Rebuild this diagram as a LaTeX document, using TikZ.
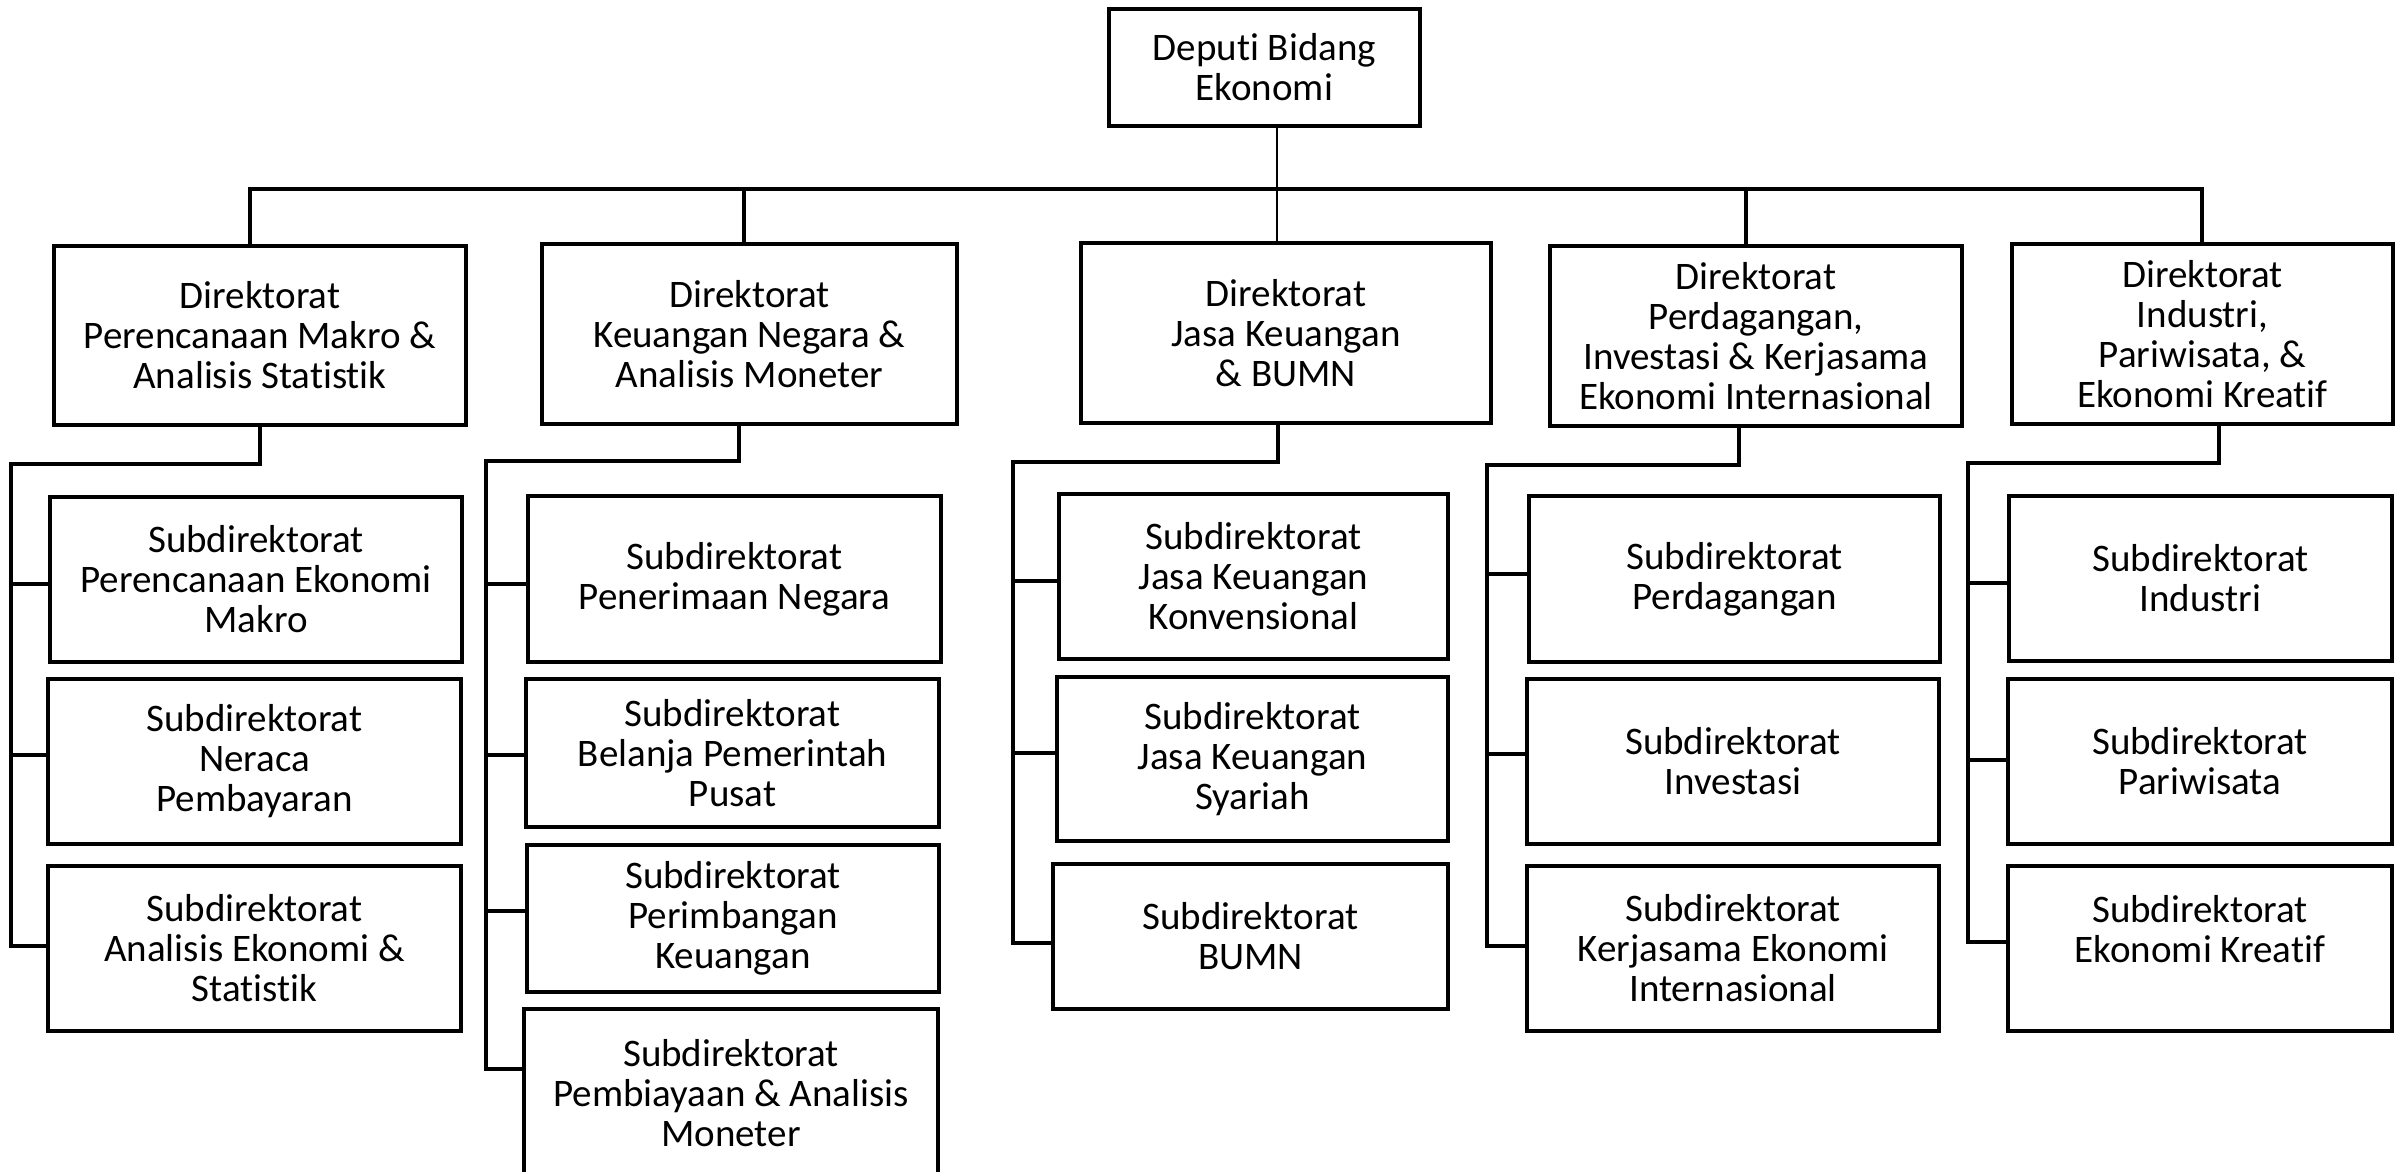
\documentclass[tikz,border=0pt]{standalone}
\usepackage{fontspec}
\setmainfont{Carlito}[Ligatures={NoCommon}]
\begin{document}
\begin{tikzpicture}[x=0.5pt,y=-0.5pt,
  box/.style={draw=black,line width=2pt,fill=white,align=center,inner sep=0pt,
    font=\fontsize{19.5pt}{20pt}\selectfont},
  conn/.style={line width=1.6pt,line join=miter},
  thin/.style={line width=1.3pt}]
\useasboundingbox (0,0) rectangle (2406,1172);
\newcommand\bx[6]{\node[box,minimum width={(#4-#2)*0.5pt},minimum height={(#5-#3)*0.5pt}]
  (#1) at ({(#2+#4)/2},{(#3+#5)/2}) {#6};}
% top
\bx{top}{1109}{9}{1420}{126}{Deputi Bidang\\Ekonomi}
% directorates
\bx{D1}{54}{246}{466}{425}{Direktorat\\Perencanaan Makro \&\\Analisis Statistik}
\bx{D2}{542}{244}{957}{424}{Direktorat\\Keuangan Negara \&\\Analisis Moneter}
\bx{D3}{1081}{243}{1491}{423}{Direktorat\\Jasa Keuangan\\\& BUMN}
\bx{D4}{1550}{246}{1962}{426}{Direktorat\\Perdagangan,\\Investasi \& Kerjasama\\Ekonomi Internasional}
\bx{D5}{2012}{244}{2393}{424}{Direktorat\\Industri,\\Pariwisata, \&\\Ekonomi Kreatif}
% column 1
\bx{S1a}{50}{497}{462}{662}{Subdirektorat\\Perencanaan Ekonomi\\Makro}
\bx{S1b}{48}{679}{461}{844}{Subdirektorat\\Neraca\\Pembayaran}
\bx{S1c}{48}{866}{461}{1031}{Subdirektorat\\Analisis Ekonomi \&\\Statistik}
% column 2
\bx{S2a}{528}{496}{941}{662}{Subdirektorat\\Penerimaan Negara}
\bx{S2b}{526}{679}{939}{827}{Subdirektorat\\Belanja Pemerintah\\Pusat}
\bx{S2c}{527}{845}{939}{992}{Subdirektorat\\Perimbangan\\Keuangan}
\bx{S2d}{524}{1009}{938}{1178}{Subdirektorat\\Pembiayaan \& Analisis\\Moneter}
% column 3
\bx{S3a}{1059}{494}{1448}{659}{Subdirektorat\\Jasa Keuangan\\Konvensional}
\bx{S3b}{1057}{677}{1448}{841}{Subdirektorat\\Jasa Keuangan\\Syariah}
\bx{S3c}{1053}{864}{1448}{1009}{Subdirektorat\\BUMN}
% column 4
\bx{S4a}{1529}{496}{1940}{662}{Subdirektorat\\Perdagangan}
\bx{S4b}{1527}{679}{1939}{844}{Subdirektorat\\Investasi}
\bx{S4c}{1527}{866}{1939}{1031}{Subdirektorat\\Kerjasama Ekonomi\\Internasional}
% column 5
\bx{S5a}{2009}{496}{2392}{661}{Subdirektorat\\Industri}
\bx{S5b}{2008}{679}{2392}{844}{Subdirektorat\\Pariwisata}
\bx{S5c}{2008}{866}{2392}{1031}{Subdirektorat\\Ekonomi Kreatif\\\mbox{}}

% bus
\coordinate (b1) at (250,189);
\coordinate (b2) at (744,189);
\coordinate (b3) at (1277,189);
\coordinate (b4) at (1746,189);
\coordinate (b5) at (2202,189);
\draw[thin] (top.south -| b3) -- (b3) -- (D3.north -| b3);
\draw[conn] (D1.north -| b1) -- (b1) -- (b5) -- (D5.north -| b5);
\draw[conn] (b2) -- (D2.north -| b2);
\draw[conn] (b4) -- (D4.north -| b4);

% column 1 connectors
\coordinate (d1) at (260,464); \coordinate (v1) at (11,464);
\coordinate (k1a) at (11,584); \coordinate (k1b) at (11,755); \coordinate (k1c) at (11,946);
\draw[conn] (D1.south -| d1) -- (d1) -- (v1) -- (k1c) -- (S1c.west |- k1c);
\draw[conn] (k1a) -- (S1a.west |- k1a);
\draw[conn] (k1b) -- (S1b.west |- k1b);

% column 2 connectors
\coordinate (d2) at (739,461); \coordinate (v2) at (486,461);
\coordinate (k2a) at (486,584); \coordinate (k2b) at (486,755);
\coordinate (k2c) at (486,911); \coordinate (k2d) at (486,1069);
\draw[conn] (D2.south -| d2) -- (d2) -- (v2) -- (k2d) -- (S2d.west |- k2d);
\draw[conn] (k2a) -- (S2a.west |- k2a);
\draw[conn] (k2b) -- (S2b.west |- k2b);
\draw[conn] (k2c) -- (S2c.west |- k2c);

% column 3 connectors
\coordinate (d3) at (1278,462); \coordinate (v3) at (1013,462);
\coordinate (k3a) at (1013,581); \coordinate (k3b) at (1013,753); \coordinate (k3c) at (1013,943);
\draw[conn] (D3.south -| d3) -- (d3) -- (v3) -- (k3c) -- (S3c.west |- k3c);
\draw[conn] (k3a) -- (S3a.west |- k3a);
\draw[conn] (k3b) -- (S3b.west |- k3b);

% column 4 connectors
\coordinate (d4) at (1739,465); \coordinate (v4) at (1487,465);
\coordinate (k4a) at (1487,574); \coordinate (k4b) at (1487,754); \coordinate (k4c) at (1487,946);
\draw[conn] (D4.south -| d4) -- (d4) -- (v4) -- (k4c) -- (S4c.west |- k4c);
\draw[conn] (k4a) -- (S4a.west |- k4a);
\draw[conn] (k4b) -- (S4b.west |- k4b);

% column 5 connectors
\coordinate (d5) at (2219,463); \coordinate (v5) at (1968,463);
\coordinate (k5a) at (1968,583); \coordinate (k5b) at (1968,760); \coordinate (k5c) at (1968,942);
\draw[conn] (D5.south -| d5) -- (d5) -- (v5) -- (k5c) -- (S5c.west |- k5c);
\draw[conn] (k5a) -- (S5a.west |- k5a);
\draw[conn] (k5b) -- (S5b.west |- k5b);
\end{tikzpicture}
\end{document}
